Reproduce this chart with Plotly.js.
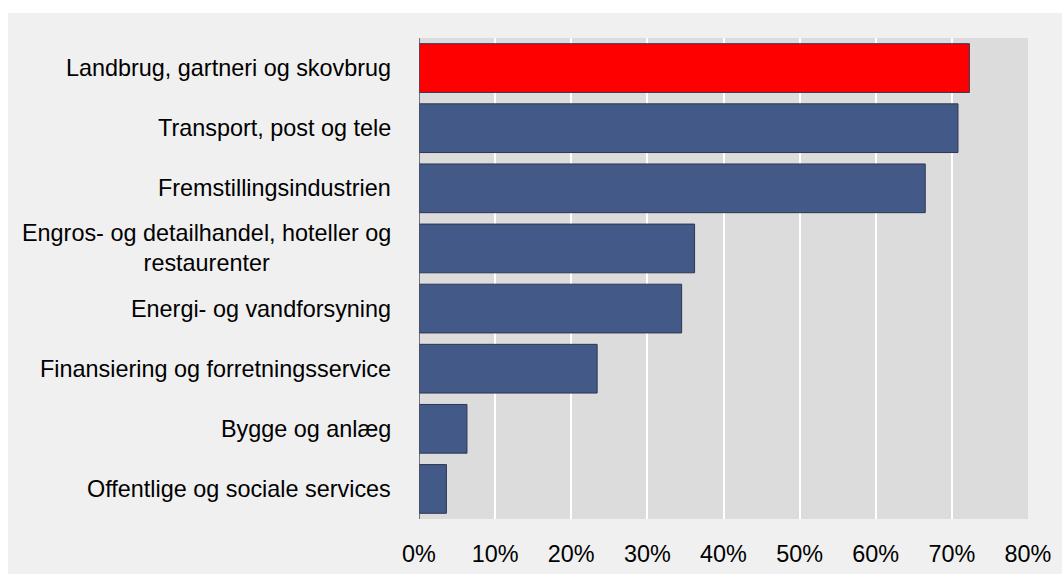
<!DOCTYPE html>
<html>
<head>
<meta charset="utf-8">
<script src="https://cdn.plot.ly/plotly-3.0.1.min.js"></script>
<style>
html, body { margin: 0; padding: 0; background: #ffffff; }
#chart { position: absolute; left: 8px; top: 13px; width: 1054px; height: 561px; }
</style>
</head>
<body>
<div id="chart"></div>
<script>
const categories = [
  "Landbrug, gartneri og skovbrug",
  "Transport, post og tele",
  "Fremstillingsindustrien",
  "Engros- og detailhandel, hoteller og<br>restaurenter",
  "Energi- og vandforsyning",
  "Finansiering og forretningsservice",
  "Bygge og anlæg",
  "Offentlige og sociale services"
];
const values = [0.723, 0.708, 0.665, 0.362, 0.345, 0.234, 0.063, 0.036];
const barColors = ["#ff0000", "#435a88", "#435a88", "#435a88", "#435a88", "#435a88", "#435a88", "#435a88"];
const xTickVals = [0, 0.1, 0.2, 0.3, 0.4, 0.5, 0.6, 0.7, 0.8];
const xTickText = ["0%", "10%", "20%", "30%", "40%", "50%", "60%", "70%", "80%"];

const FONT = "Liberation Sans, Arial, sans-serif";
const FS = 23.4;

const trace = {
  type: "bar",
  orientation: "h",
  x: values,
  y: categories,
  marker: { color: barColors, line: { color: "#2e3550", width: 1 } },
  hoverinfo: "skip"
};

const annotations = categories.map(c => ({
  xref: "paper", yref: "y",
  x: 0, y: c,
  xanchor: "right", yanchor: "middle",
  xshift: -26,
  align: "center",
  showarrow: false,
  text: c,
  font: { family: FONT, size: FS, color: "#000000" }
}));

const layout = {
  width: 1054,
  height: 561,
  paper_bgcolor: "#f0f0f0",
  plot_bgcolor: "#dcdcdc",
  margin: { l: 411, r: 34, t: 25, b: 55 },
  bargap: 0.19,
  showlegend: false,
  font: { family: FONT, size: FS, color: "#000000" },
  xaxis: {
    range: [0, 0.8],
    tickvals: xTickVals,
    ticktext: xTickText,
    showgrid: true,
    gridcolor: "#ffffff",
    gridwidth: 2,
    zeroline: false,
    showline: false,
    ticks: "",
    ticklabelstandoff: 19,
    fixedrange: true
  },
  yaxis: {
    categoryorder: "array",
    categoryarray: categories,
    autorange: "reversed",
    showgrid: false,
    zeroline: false,
    showline: false,
    ticks: "",
    showticklabels: false,
    fixedrange: true
  },
  annotations: annotations,
  shapes: [{
    type: "line", xref: "x", yref: "paper",
    x0: 0, x1: 0, y0: 0, y1: 1,
    line: { color: "#50505f", width: 1.5 }
  }]
};

Plotly.newPlot("chart", [trace], layout, { displayModeBar: false, staticPlot: true });
</script>
</body>
</html>
